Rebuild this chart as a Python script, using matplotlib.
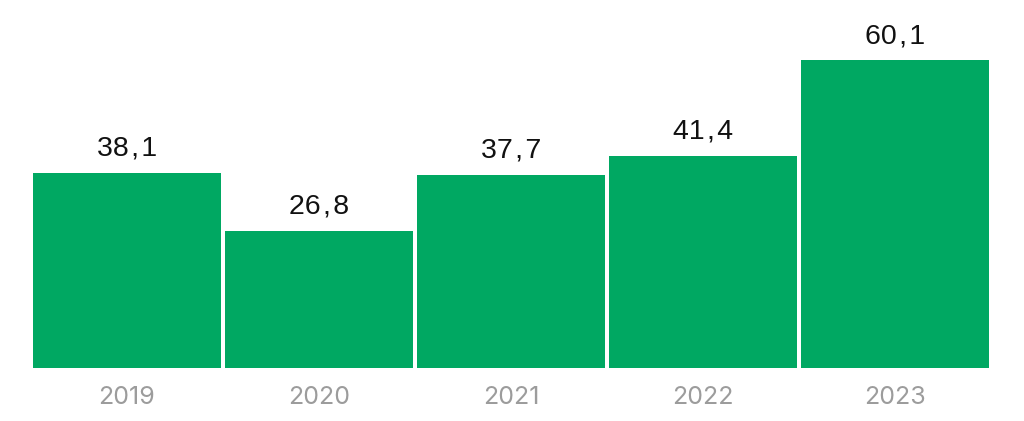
import matplotlib
matplotlib.use("Agg")
import matplotlib.pyplot as plt

years = ["2019", "2020", "2021", "2022", "2023"]
values = [38.1, 26.8, 37.7, 41.4, 60.1]
labels = ["38,1", "26,8", "37,7", "41,4", "60,1"]

HS = "\u200a"

fig = plt.figure(figsize=(10.24, 4.21), dpi=100)
ax = fig.add_axes([31/1024, (421-368)/421, 960/1024, 308/421 * 70/60.1])
x = list(range(len(years)))
bars = ax.bar(x, values, width=188/192, color="#00A862", linewidth=0)
ax.set_xlim(-0.5, len(years) - 0.5)
ax.set_ylim(0, 70)
for xi, v, lab in zip(x, values, labels):
    ax.annotate(lab.replace(",", HS + "," + HS), (xi, v), xytext=(0, 11), textcoords="offset pixels",
                ha="center", va="bottom", fontsize=20.5, family="Liberation Sans", color="#111111")
ax.set_xticks(x)
ax.set_xticklabels(years, fontsize=18, color="#9c9c9c", family="Inter", fontweight="normal")
ax.tick_params(axis="x", length=0, pad=13)
ax.set_yticks([])
for s in ax.spines.values():
    s.set_visible(False)
fig.savefig("out.png", dpi=100)
